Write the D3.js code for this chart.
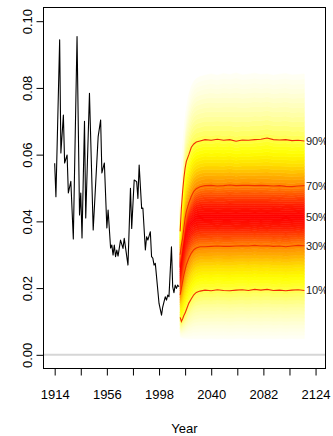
<!DOCTYPE html>
<html>
<head>
<meta charset="utf-8">
<script src="https://cdn.jsdelivr.net/npm/d3@7"></script>
<style>
  html, body { margin: 0; padding: 0; background: #fff; }
  svg { display: block; font-family: "Liberation Sans", Arial, Helvetica, sans-serif; }
</style>
</head>
<body>
<svg id="chart" width="333" height="436"></svg>
<script>
// ---------------- data ----------------
const histYears = [1914,1915,1918,1919,1921,1922,1924,1925,1927,1929,1932,1934,1935,1936,1938,1939,1942,1945,1949,1951,1952,1954,1956,1957,1959,1960,1961,1962,1963,1964,1965,1967,1969,1970,1973,1975,1976,1978,1980,1981,1982,1984,1985,1987,1988,1989,1991,1992,1993,1994,1995,1998,2000,2001,2003,2004,2005,2006,2008,2009,2010,2011,2012,2013,2014];
const histValues = [0.0574,0.0474,0.0944,0.0605,0.0719,0.0575,0.0599,0.0485,0.0520,0.0347,0.0954,0.0419,0.0485,0.0350,0.0700,0.0410,0.0784,0.0374,0.0654,0.0704,0.0545,0.0575,0.0380,0.0434,0.0320,0.0329,0.0299,0.0329,0.0294,0.0314,0.0296,0.0344,0.0319,0.0349,0.0269,0.0499,0.0379,0.0524,0.0519,0.0469,0.0569,0.0439,0.0440,0.0314,0.0354,0.0344,0.0369,0.0294,0.0290,0.0269,0.0274,0.0154,0.0119,0.0144,0.0174,0.0164,0.0179,0.0174,0.0324,0.0204,0.0186,0.0209,0.0199,0.0209,0.0204];

const fanYears = [2015,2016,2017,2018,2019,2020,2022,2024,2026,2028,2031,2035,2040,2045,2050,2055,2060,2065,2070,2075,2080,2085,2090,2095,2100,2105,2110,2115];
const q01 = [0.0054,0.0052,0.0051,0.0050,0.0050,0.0049,0.0049,0.0048,0.0049,0.0048,0.0049,0.0048,0.0049,0.0048,0.0049,0.0048,0.0049,0.0049,0.0048,0.0049,0.0048,0.0049,0.0048,0.0049,0.0048,0.0049,0.0048,0.0049];
const q10 = [0.0112,0.0100,0.0108,0.0118,0.0125,0.0135,0.0155,0.0168,0.0180,0.0187,0.0191,0.0194,0.0192,0.0195,0.0193,0.0192,0.0194,0.0195,0.0193,0.0196,0.0194,0.0196,0.0193,0.0194,0.0192,0.0194,0.0195,0.0193];
const q30 = [0.0180,0.0200,0.0220,0.0240,0.0255,0.0270,0.0290,0.0305,0.0315,0.0320,0.0324,0.0324,0.0325,0.0326,0.0325,0.0325,0.0326,0.0327,0.0326,0.0328,0.0326,0.0327,0.0325,0.0326,0.0324,0.0326,0.0328,0.0327];
const q50 = [0.0260,0.0290,0.0320,0.0340,0.0360,0.0370,0.0390,0.0400,0.0408,0.0412,0.0413,0.0414,0.0414,0.0415,0.0414,0.0414,0.0415,0.0414,0.0414,0.0415,0.0414,0.0415,0.0414,0.0414,0.0413,0.0414,0.0415,0.0414];
const q70 = [0.0300,0.0330,0.0350,0.0380,0.0410,0.0430,0.0455,0.0475,0.0490,0.0498,0.0504,0.0507,0.0508,0.0506,0.0507,0.0509,0.0507,0.0508,0.0508,0.0507,0.0508,0.0507,0.0506,0.0507,0.0505,0.0504,0.0506,0.0507];
const q90 = [0.0370,0.0440,0.0490,0.0530,0.0560,0.0580,0.0600,0.0622,0.0632,0.0638,0.0641,0.0645,0.0643,0.0646,0.0643,0.0645,0.0640,0.0644,0.0643,0.0645,0.0646,0.0650,0.0645,0.0644,0.0645,0.0642,0.0643,0.0641];
const q99 = [0.0460,0.0550,0.0620,0.0670,0.0710,0.0740,0.0780,0.0805,0.0820,0.0828,0.0834,0.0838,0.0842,0.0838,0.0843,0.0840,0.0845,0.0839,0.0841,0.0844,0.0840,0.0842,0.0838,0.0841,0.0843,0.0839,0.0840,0.0842];
const quantileProbs = [0.01,0.10,0.30,0.50,0.70,0.90,0.99];
const quantileSeries = [q01,q10,q30,q50,q70,q90,q99];

const lineSeries = [q10,q30,q70,q90];
const labelSeries = [q10,q30,q50,q70,q90];
const labelTexts = ["10%","30%","50%","70%","90%"];

const xTicks = [1914,1935,1956,1977,1998,2019,2040,2061,2082,2103,2124];
const xTickLabels = ["1914","","1956","","1998","","2040","","2082","","2124"];
const yTicks = [0,0.02,0.04,0.06,0.08,0.10];
const yTickLabels = ["0.00","0.02","0.04","0.06","0.08","0.10"];

// ---------------- layout ----------------
const L = 43.5, T = 7.5, R = 325.5, B = 368.5;
const svg = d3.select("#chart");
const x = d3.scaleLinear().domain([1905, 2132]).range([L, R]);
const y = d3.scaleLinear().domain([-0.0041, 0.1041]).range([B, T]);

svg.append("defs").append("clipPath").attr("id","plotclip")
  .append("rect").attr("x",L).attr("y",T).attr("width",R-L).attr("height",B-T);

const plot = svg.append("g").attr("clip-path","url(#plotclip)");

// zero line
plot.append("line")
  .attr("x1",L).attr("x2",R).attr("y1",y(0)).attr("y2",y(0))
  .attr("stroke","#d6d6d6").attr("stroke-width",2);

// colour ramp (distance from median: 0 -> 1)
const rampStops = [0,0.15,0.3,0.45,0.6,0.7,0.8,0.88,0.95,1];
const rampCols  = ["#ff0000","#ff1a00","#ff5500","#ff9a00","#ffe000","#ffff00","#ffff38","#ffffa0","#ffffdc","#fffff6"];
const ramp = d3.scaleLinear().domain(rampStops).range(rampCols).interpolate(d3.interpolateRgb).clamp(true);
const colourFor = p => ramp(Math.abs(p - 0.5) / 0.49);

// fan bands (sub-divided for a smooth gradient)
const N = 14;
const idx = d3.range(fanYears.length);
for (let i = 0; i < quantileSeries.length - 1; i++) {
  const A = quantileSeries[i], Bq = quantileSeries[i+1];
  const pA = quantileProbs[i], pB = quantileProbs[i+1];
  for (let k = 0; k < N; k++) {
    const t0 = k / N, t1 = (k + 1) / N;
    const pm = pA + (pB - pA) * (t0 + t1) / 2;
    const col = colourFor(pm);
    const area = d3.area()
      .x(j => x(fanYears[j]))
      .y0(j => y(A[j] + (Bq[j] - A[j]) * t0))
      .y1(j => y(A[j] + (Bq[j] - A[j]) * t1));
    plot.append("path").attr("d", area(idx))
      .attr("fill", col).attr("stroke", col).attr("stroke-width", 0.6);
  }
}

// quantile lines
const qLine = s => d3.line().x(j => x(fanYears[j])).y(j => y(s[j]))(idx);
lineSeries.forEach(s => {
  plot.append("path").attr("d", qLine(s))
    .attr("fill","none").attr("stroke","#f23000").attr("stroke-width",1.1);
});

// historical line
const hIdx = d3.range(histYears.length);
plot.append("path")
  .attr("d", d3.line().x(j => x(histYears[j])).y(j => y(histValues[j]))(hIdx))
  .attr("fill","none").attr("stroke","#000").attr("stroke-width",1.1).attr("stroke-linejoin","round");

// percentage labels (clipped by plot region)
const lastI = fanYears.length - 1;
labelSeries.forEach((s, i) => {
  plot.append("text")
    .attr("x", x(fanYears[lastI]) + 1.5)
    .attr("y", y(s[lastI]))
    .attr("dy", "0.36em")
    .attr("font-size", 11)
    .attr("fill", "#222")
    .text(labelTexts[i]);
});

// frame
svg.append("rect").attr("x",L).attr("y",T).attr("width",R-L).attr("height",B-T)
  .attr("fill","none").attr("stroke","#000").attr("stroke-width",1);

// axes
const xAxis = d3.axisBottom(x).tickValues(xTicks).tickSize(7).tickPadding(14)
  .tickFormat((d,i) => xTickLabels[i]);
const gx = svg.append("g").attr("transform",`translate(0,${B})`).call(xAxis);
gx.select(".domain").remove();
gx.selectAll("text").attr("font-size",13).attr("font-family","Liberation Sans, Arial, sans-serif").attr("fill","#000");
gx.selectAll("line").attr("stroke","#000");

const yAxis = d3.axisLeft(y).tickValues(yTicks).tickSize(7)
  .tickFormat((d,i) => yTickLabels[i]);
const gy = svg.append("g").attr("transform",`translate(${L},0)`).call(yAxis);
gy.select(".domain").remove();
gy.selectAll("line").attr("stroke","#000");
gy.selectAll("text")
  .attr("x", null).attr("dy", null)
  .attr("text-anchor","middle")
  .attr("transform","translate(-12,0) rotate(-90)")
  .attr("font-size",13).attr("font-family","Liberation Sans, Arial, sans-serif").attr("fill","#000");

// axis title
svg.append("text").attr("x",(L+R)/2).attr("y",433).attr("text-anchor","middle")
  .attr("font-size",13).attr("fill","#000").text("Year");
</script>
</body>
</html>
